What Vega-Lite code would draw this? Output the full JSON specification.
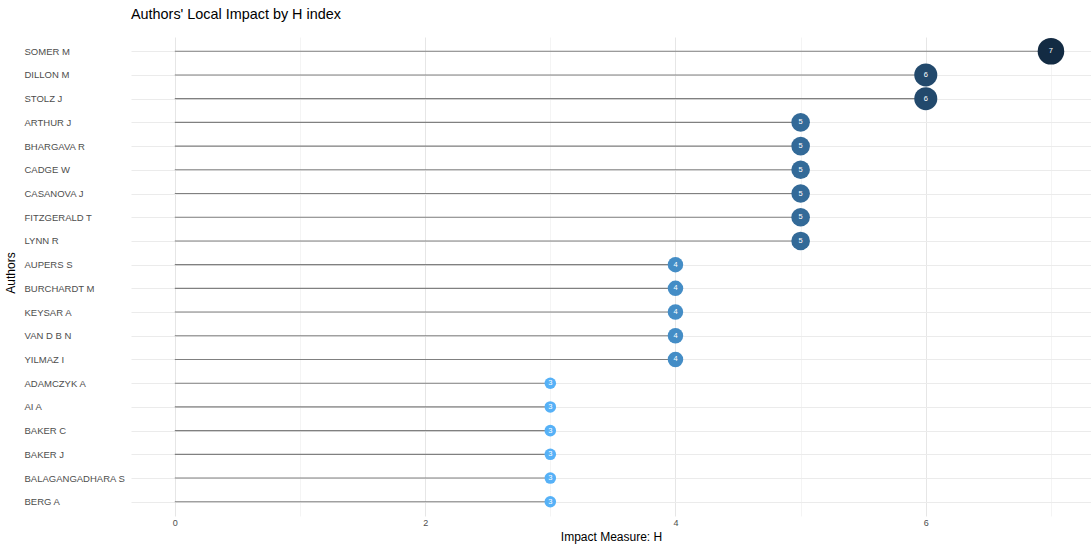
{
  "$schema": "https://vega.github.io/schema/vega-lite/v6.json",
  "width": 960,
  "height": 479,
  "autosize": "none",
  "padding": {"left": 131, "top": 37, "right": 0, "bottom": 32},
  "background": "white",
  "title": {"text": "Authors' Local Impact by H index", "anchor": "start", "frame": "group", "fontSize": 14.4, "fontWeight": "normal", "font": "Liberation Sans", "color": "#000000", "offset": 15},
  "config": {"view": {"stroke": null}, "font": "Liberation Sans"},
  "data": {"values": [
    {"author": "SOMER M", "h": 7},
    {"author": "DILLON M", "h": 6},
    {"author": "STOLZ J", "h": 6},
    {"author": "ARTHUR J", "h": 5},
    {"author": "BHARGAVA R", "h": 5},
    {"author": "CADGE W", "h": 5},
    {"author": "CASANOVA J", "h": 5},
    {"author": "FITZGERALD T", "h": 5},
    {"author": "LYNN R", "h": 5},
    {"author": "AUPERS S", "h": 4},
    {"author": "BURCHARDT M", "h": 4},
    {"author": "KEYSAR A", "h": 4},
    {"author": "VAN D B N", "h": 4},
    {"author": "YILMAZ I", "h": 4},
    {"author": "ADAMCZYK A", "h": 3},
    {"author": "AI A", "h": 3},
    {"author": "BAKER C", "h": 3},
    {"author": "BAKER J", "h": 3},
    {"author": "BALAGANGADHARA S", "h": 3},
    {"author": "BERG A", "h": 3}
  ]},
  "encoding": {
    "y": {"field": "author", "type": "nominal", "sort": null,
      "scale": {"type": "point", "padding": 0.6},
      "axis": {"title": "Authors", "titleX": -114, "titleY": 235.5, "titleAngle": -90, "titleAlign": "center", "titleBaseline": "bottom", "titleFontSize": 12, "titleFontWeight": "normal", "titleColor": "#000000",
        "labelAlign": "left", "labelPadding": 107, "ticks": false, "domain": false, "labelFontSize": 9.5, "labelColor": "#4d4d4d",
        "grid": true, "gridColor": "#ebebeb", "gridWidth": 1}
    },
    "x": {"field": "h", "type": "quantitative",
      "scale": {"domain": [-0.35, 7.32], "nice": false, "zero": false},
      "axis": {"title": "Impact Measure: H", "values": [0,1,2,3,4,5,6,7], "labelExpr": "datum.value % 2 == 0 ? datum.label : ''",
        "grid": true, "gridColor": {"condition": {"test": "datum.value % 2 == 1", "value": "#f4f4f4"}, "value": "#e6e6e6"}, "gridWidth": 1,
        "ticks": false, "domain": false, "labelFontSize": 9, "labelColor": "#4d4d4d", "labelPadding": 2,
        "titleFontSize": 12, "titleFontWeight": "normal", "titleColor": "#000000", "titlePadding": 4}}
  },
  "layer": [
    {
      "mark": {"type": "rule", "color": "#808080", "strokeWidth": 1.1},
      "encoding": {
        "x2": {"datum": 0}
      }
    },
    {
      "mark": {"type": "circle", "opacity": 1},
      "encoding": {
        "color": {"field": "h", "type": "quantitative", "legend": null,
          "scale": {"domain": [3, 7], "range": ["#56B1F7", "#132B43"], "interpolate": "lab"}},
        "size": {"field": "h", "type": "quantitative", "legend": null,
          "scale": {"domain": [3, 4, 5, 6, 7], "range": [133, 240, 346, 531, 707], "zero": false}}
      }
    },
    {
      "mark": {"type": "text", "color": "white", "fontSize": 7.5, "baseline": "middle", "align": "center"},
      "encoding": {
        "text": {"field": "h", "type": "quantitative"}
      }
    }
  ]
}
